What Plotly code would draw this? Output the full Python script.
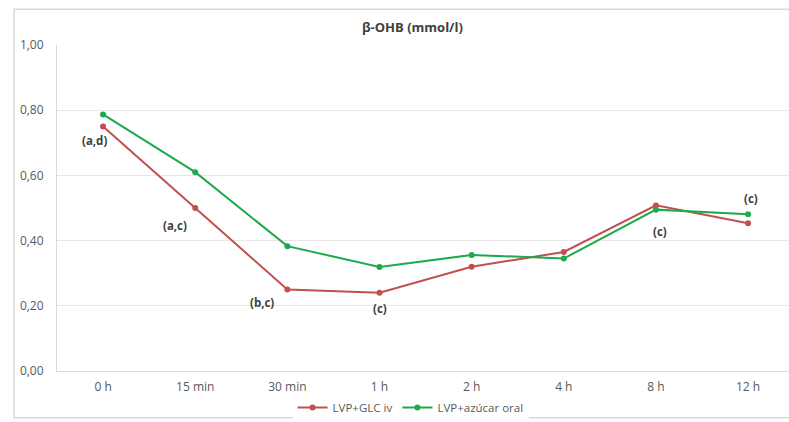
import plotly.graph_objects as go

# Sampling times and β-OHB concentrations (mmol/l)
times = ["0 h", "15 min", "30 min", "1 h", "2 h", "4 h", "8 h", "12 h"]
glc_iv = [0.75, 0.50, 0.25, 0.24, 0.32, 0.365, 0.508, 0.453]
azucar_oral = [0.787, 0.61, 0.383, 0.319, 0.356, 0.345, 0.495, 0.481]

# Significance letters: (time index, series values, text, x shift, y shift)
sig_labels = [
    (0, glc_iv, "(a,d)", -9, -14),
    (1, glc_iv, "(a,c)", -20, -17),
    (2, glc_iv, "(b,c)", -25, -13),
    (3, glc_iv, "(c)", 0, -16),
    (6, azucar_oral, "(c)", 4, -22),
    (7, azucar_oral, "(c)", 3, 16),
]

RED = "#C0504D"
GREEN = "#1DAA4E"
FONT = "Open Sans"

fig = go.Figure()
fig.add_trace(go.Scatter(
    x=list(range(len(times))), y=glc_iv, name="LVP+GLC iv",
    mode="lines+markers", line=dict(color=RED, width=2),
    marker=dict(color=RED, size=6),
))
fig.add_trace(go.Scatter(
    x=list(range(len(times))), y=azucar_oral, name="LVP+azúcar oral",
    mode="lines+markers", line=dict(color=GREEN, width=2),
    marker=dict(color=GREEN, size=6),
))

for idx, vals, txt, dx, dy in sig_labels:
    fig.add_annotation(
        x=idx, y=vals[idx], text=f"<b>{txt}</b>", showarrow=False,
        xshift=dx, yshift=dy, xanchor="center", yanchor="middle",
        font=dict(family=FONT, size=11.5, color="#404040"),
    )

fig.add_annotation(
    x=0.485, y=1.056, xref="paper", yref="paper", text="<b>β-OHB (mmol/l)</b>",
    showarrow=False, xanchor="center", yanchor="middle",
    font=dict(family=FONT, size=13, color="#404040"),
)

# Light frame around the chart
fig.add_shape(
    type="rect", xref="paper", yref="paper",
    x0=-0.0587, x1=1.02, y0=-0.1433, y1=1.1098,
    line=dict(color="#D9D9D9", width=1.5), fillcolor="rgba(0,0,0,0)", layer="below",
)

fig.update_layout(
    width=789, height=422,
    margin=dict(l=57, r=0, t=45, b=49),
    paper_bgcolor="white", plot_bgcolor="white",
    separators=",.",
    showlegend=True,
    legend=dict(
        orientation="h", x=0.483, xanchor="center", y=-0.113, yanchor="middle",
        font=dict(family=FONT, size=11.5, color="#595959"),
        itemwidth=30, tracegroupgap=0,
    ),
    font=dict(family=FONT, size=12, color="#595959"),
)

fig.update_xaxes(
    tickmode="array", tickvals=list(range(len(times))), ticktext=times,
    range=[-0.5, 7.444], showgrid=False, zeroline=False,
    showline=True, linecolor="#D9D9D9", linewidth=1,
    tickfont=dict(family=FONT, size=12, color="#595959"),
    ticks="", ticklabelstandoff=5,
)
fig.update_yaxes(
    range=[0, 1], tickvals=[0, 0.2, 0.4, 0.6, 0.8, 1.0], tickformat=".2f",
    showgrid=True, gridcolor="#E8E8E8", gridwidth=1, zeroline=False,
    showline=True, linecolor="#D9D9D9", linewidth=1,
    tickfont=dict(family=FONT, size=12, color="#595959"),
    ticks="", ticklabelstandoff=10,
)

fig.write_html("out.html")
